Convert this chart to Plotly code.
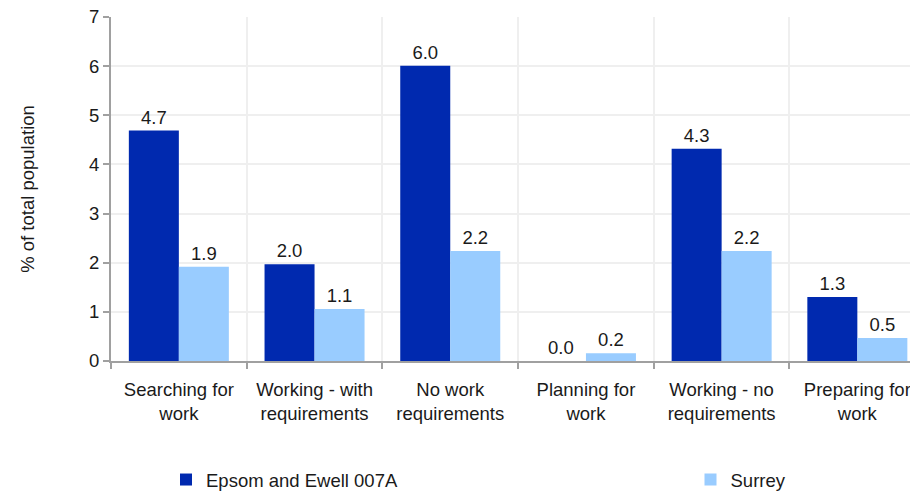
import plotly.graph_objects as go

categories = ["Searching for<br>work", "Working - with<br>requirements", "No work<br>requirements",
              "Planning for<br>work", "Working - no<br>requirements", "Preparing for<br>work"]
epsom = [4.69, 1.97, 6.01, 0.0, 4.32, 1.30]
surrey = [1.92, 1.06, 2.24, 0.16, 2.24, 0.47]
y_ticks = [0, 1, 2, 3, 4, 5, 6, 7]

FONT = "Liberation Sans, Arial, sans-serif"
fs = 18.5
W, H = 910, 483  # page body has an 8px margin in the viewer

fig = go.Figure()
fig.add_trace(go.Bar(x=categories, y=epsom, name="Epsom and Ewell 007A", legend="legend",
                     marker=dict(color="#0029AF", line=dict(width=0)),
                     texttemplate="%{y:.1f}", textposition="outside",
                     textfont=dict(size=fs, color="#1a1a1a", family=FONT), cliponaxis=False))
fig.add_trace(go.Bar(x=categories, y=surrey, name="Surrey", legend="legend2",
                     marker=dict(color="#99CCFF", line=dict(width=0)),
                     texttemplate="%{y:.1f}", textposition="outside",
                     textfont=dict(size=fs, color="#1a1a1a", family=FONT), cliponaxis=False))

leg_common = dict(orientation="h", xanchor="left", yanchor="middle", xref="container", yref="container",
                  y=1 - 472 / H, font=dict(size=fs, family=FONT, color="#1a1a1a"),
                  bgcolor="rgba(0,0,0,0)", borderwidth=0)

fig.update_layout(
    width=W, height=H,
    margin=dict(l=103, r=0, t=9, b=130, autoexpand=False),
    paper_bgcolor="white", plot_bgcolor="white",
    barmode="group", bargap=0.263, bargroupgap=0,
    font=dict(family=FONT, size=fs, color="#1a1a1a"),
    showlegend=True,
    legend=dict(x=158 / W, **leg_common),
    legend2=dict(x=682.5 / W, **leg_common),
    xaxis=dict(range=[-0.5, 5.447], showline=True, linecolor="#a0a0a0", linewidth=2,
               ticks="outside", tickson="boundaries", ticklen=6, tickcolor="#a0a0a0", tickwidth=2,
               showgrid=True, gridcolor="#efefef", gridwidth=2, automargin=False,
               ticklabelstandoff=11, tickfont=dict(size=fs)),
    yaxis=dict(range=[0, 7], tickvals=y_ticks, showline=True, linecolor="#a0a0a0", linewidth=2,
               ticks="outside", ticklen=6, tickcolor="#a0a0a0", tickwidth=2,
               showgrid=True, gridcolor="#efefef", gridwidth=2, zeroline=False, automargin=False,
               ticklabeloverflow="allow",
               title=dict(text="% of total population", standoff=50, font=dict(size=fs)),
               tickfont=dict(size=fs)),
)
fig.write_html("out.html")
